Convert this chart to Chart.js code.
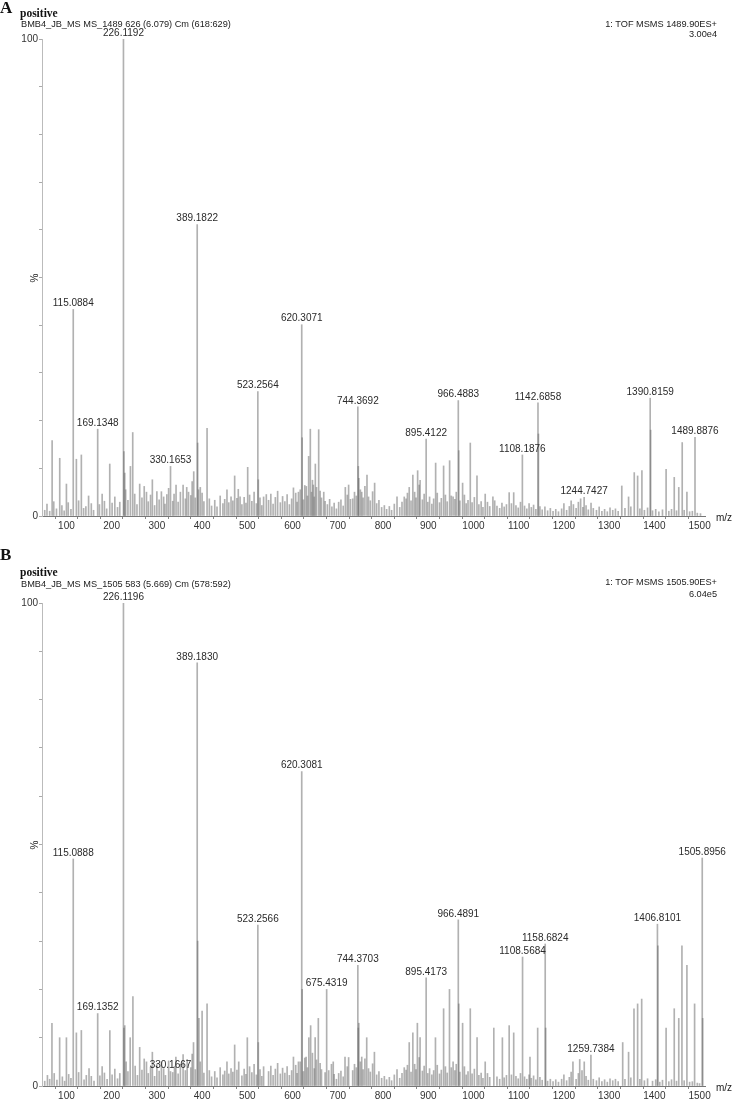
<!DOCTYPE html>
<html><head><meta charset="utf-8">
<script src="https://cdn.jsdelivr.net/npm/chart.js@4.4.1/dist/chart.umd.min.js"></script>
<style>
body{margin:0;width:732px;height:1101px;position:relative;background:#fff;font-family:'Liberation Sans',Arial,sans-serif;overflow:hidden}
canvas{position:absolute;left:0}
.t{position:absolute;white-space:nowrap;color:#222;line-height:1}
.hd{font-family:'Liberation Serif','Times New Roman',serif;font-weight:bold;color:#111}
.s{font-size:9.2px}
.r{text-align:right}
.pct{font-size:10px;transform:rotate(-90deg);transform-origin:center}
</style></head><body>
<canvas id="ca" width="732" height="540" style="top:0"></canvas>
<canvas id="cb" width="732" height="561" style="top:540px"></canvas>

<div class="t hd" style="left:0;top:-1px;font-size:17px">A</div>
<div class="t hd" style="left:20px;top:8px;font-size:11.5px">positive</div>
<div class="t s" style="left:21px;top:20px">BMB4_JB_MS MS_1489 626 (6.079) Cm (618:629)</div>
<div class="t s r" style="right:15px;top:20px">1: TOF MSMS 1489.90ES+</div>
<div class="t s r" style="right:15px;top:30px">3.00e4</div>
<div class="t pct" style="left:31px;top:273px">%</div>
<div class="t" style="left:716px;top:513px;font-size:10px">m/z</div>

<div class="t hd" style="left:0;top:546px;font-size:17px">B</div>
<div class="t hd" style="left:20px;top:567px;font-size:11.5px">positive</div>
<div class="t s" style="left:21px;top:580px">BMB4_JB_MS MS_1505 583 (5.669) Cm (578:592)</div>
<div class="t s r" style="right:15px;top:578px">1: TOF MSMS 1505.90ES+</div>
<div class="t s r" style="right:15px;top:590px">6.04e5</div>
<div class="t pct" style="left:31px;top:840px">%</div>
<div class="t" style="left:716px;top:1083px;font-size:10px">m/z</div>

<script>
// ---------- Panel A data ----------
const aLabelMz  = [226.1192, 389.1822, 115.0884, 620.3071, 523.2564, 169.1348, 330.1653, 744.3692, 966.4883, 1142.6858, 1390.8159, 895.4122, 1108.1876, 1489.8876, 1244.7427];
const aLabelInt = [100, 61.1, 43.3, 40.1, 26.1, 18.2, 10.4, 22.9, 24.2, 23.7, 24.7, 16.1, 12.8, 16.5, 3.9];
const aPeaks = [
 [68.4,15.8],[85.2,12.1],[100,6.7],[122,11.9],[133,12.8],[179,4.6],[195.8,10.9],[227.1,13.5],[229,9],[241.5,10.4],[246.6,17.5],
 [262,6.7],[277,5],[290,7.6],[310,5.1],[322,4.5],[342.4,6.5],[358,6.5],[370,5],[381.5,9.3],[390.2,15.3],[396,6],[411,18.4],
 [455,5.5],[472,8.4],[484,4],[500.8,10.2],[524.3,7.6],[536,4],[542,4.5],[602,5.9],[613,5],[621.3,16.4],[630.5,6.2],[635.6,12.5],
 [639.3,18.2],[646,6.5],[650.4,10.9],[657.8,18.1],[669,5],[716.7,6],[728,3.5],[745.4,10.4],[746.5,7.9],[753,5],[764.6,8.6],[781.5,6.9],
 [831,4],[847,4],[858,6],[866,8.6],[876.6,9.5],[882,7.5],[916.4,11.1],[934,10.5],[947.3,11.6],[955,4],[967.5,13.7],[976,6.9],
 [993,15.3],[1007.8,8.4],[1026,4.6],[1043,4],[1079,4.9],[1089,4.9],[1143.7,17.2],[1328,6.3],[1343,4],[1355.6,9.1],[1363,8.4],
 [1372.5,9.5],[1391.8,18],[1426,9.8],[1444,8.1],[1454,6],[1461.6,15.4],[1472,5]
];
const aNoise = [
 [52,1.2],[57,2.5],[63,1.0],[72,3.0],[78,1.5],[90,2.2],[95,1.1],[104,2.8],[110,1.4],[127,3.2],[138,1.6],[143,2.0],[149,4.2],[155,2.6],
 [160,1.2],[173,2.4],[184,3.1],[189,1.5],[201,2.7],[207,4.0],[213,1.8],[218,2.9],[231,5.5],[236,3.3],[251,4.6],[256,2.4],[267,3.8],
 [272,6.2],[281,3.0],[286,4.4],[295,2.2],[300,5.1],[305,3.4],[315,4.0],[318,2.5],[326,5.8],[335,3.1],[338,4.6],[347,2.9],[352,5.0],
 [363,3.6],[366,6.0],[375,4.3],[378,7.2],[385,3.8],[392,5.5],[400,4.8],[404,3.0],[416,3.6],[421,2.1],[428,3.3],[433,1.9],[440,4.2],
 [446,2.6],[450,3.5],[459,2.8],[464,4.0],[468,3.2],[477,3.7],[480,5.6],[488,2.4],[493,3.9],[497,2.7],[505,4.4],[510,3.1],[515,5.0],
 [520,2.6],[528,3.8],[532,2.2],[547,3.3],[552,4.6],[557,2.5],[562,3.9],[567,5.2],[573,2.8],[578,4.1],[583,3.0],[588,4.5],[593,2.4],
 [598,3.6],[607,4.8],[610,2.9],[617,5.5],[624,3.4],[627,6.4],[633,4.2],[642,5.0],[644,7.5],[648,4.0],[653,6.0],[661,5.2],[664,3.8],
 [672,3.1],[677,2.4],[682,3.5],[687,1.9],[692,2.7],[697,1.5],[702,2.9],[707,3.4],[712,2.1],[721,4.4],[724,6.5],[733,3.6],[737,5.0],
 [741,4.2],[750,5.5],[756,3.8],[760,6.2],[768,4.0],[772,3.2],[777,5.1],[786,2.6],[791,3.3],[797,1.8],[803,2.2],[808,1.4],[814,2.0],
 [819,1.2],[825,2.5],[837,1.8],[842,2.9],[851,3.6],[854,4.8],[862,3.2],[870,5.0],[873,3.8],[880,6.5],[887,3.4],[891,4.6],[899,2.9],
 [903,4.0],[908,2.5],[912,3.6],[920,4.8],[925,2.8],[929,3.7],[938,4.4],[942,3.0],[951,4.2],[959,3.5],[962,5.0],[970,3.2],[980,4.4],
 [984,2.6],[988,3.3],[997,2.8],[1002,3.9],[1012,2.4],[1017,3.0],[1021,1.8],[1031,2.9],[1036,2.0],[1047,3.2],[1052,2.1],[1058,1.6],
 [1063,2.7],[1068,1.9],[1073,2.4],[1084,2.6],[1094,2.2],[1099,1.7],[1104,2.9],[1113,2.1],[1118,1.5],[1123,2.6],[1128,1.8],[1133,2.3],
 [1138,1.4],[1147,2.0],[1152,1.3],[1158,1.9],[1164,1.1],[1170,1.6],[1176,1.0],[1182,1.4],[1188,0.9],[1195,1.5],[1200,2.6],[1206,1.2],
 [1212,2.0],[1216,3.2],[1221,2.4],[1227,1.6],[1232,2.9],[1237,3.6],[1242,1.8],[1249,2.2],[1254,1.3],[1260,2.7],[1265,1.6],[1272,1.2],
 [1278,1.9],[1284,1.0],[1290,1.4],[1296,0.9],[1302,1.7],[1308,1.2],[1314,1.5],[1320,1.0],[1335,1.6],[1348,1.9],[1368,1.5],[1378,1.2],
 [1385,1.7],[1396,1.1],[1403,1.4],[1410,0.9],[1418,1.3],[1432,1.0],[1438,1.4],[1449,1.1],[1466,1.2],[1478,0.9],[1484,1.0],[1495,0.6],[1502,0.5]
];

// ---------- Panel B data ----------
const bLabelMz  = [226.1196, 389.1830, 620.3081, 115.0888, 1505.8956, 966.4891, 1406.8101, 523.2566, 1158.6824, 1108.5684, 744.3703, 895.4173, 675.4319, 169.1352, 1259.7384, 330.1667];
const bLabelInt = [100, 87.6, 65.1, 47, 47.2, 34.4, 33.5, 33.3, 29.4, 26.7, 25, 22.4, 20, 15, 6.4, 3];
const bPeaks = [
 [68,13],[85,10],[100,10],[122,11],[133,11.5],[179,4],[196,11.5],[227.1,12],[229,12.5],[241,10],[247,18.5],[262,8],[277,5],[290,7],
 [310,5],[342,6],[358,6.5],[381,9],[390.2,30],[393,14],[400,15.5],[411,17],[455,5],[472,8.5],[500,10],[524.3,9],[536,4],[602,6],[613,5],
 [621.3,20],[630,6],[636,10],[640,12.5],[650,10],[657,14],[690,5],[716,6],[745.4,12],[746.5,13],[753,6],[764,10],[781,7],[858,9],
 [866,11],[876,13],[882,10],[916,10],[934,16],[947,20],[955,5],[967.5,17],[976,13],[993,16],[1008,10],[1026,5],[1045,12],[1064,10],
 [1079,12.5],[1089,11],[1125,6],[1142,12],[1159.7,12],[1220,5],[1235,5.5],[1245,5],[1330,9],[1343,7],[1355,16],[1363,17],[1372,18],
 [1407.8,29],[1426,12],[1444,16],[1454,14],[1461,29],[1472,25],[1489,17],[1506.9,14]
];
const bNoise = [
 [52,1.0],[58,2.2],[63,1.4],[73,2.6],[79,1.2],[91,1.9],[96,1.0],[105,2.4],[110,1.6],[127,2.8],[139,1.3],[144,2.2],[150,3.6],[155,2.0],
 [161,1.0],[174,2.1],[184,2.7],[190,1.4],[201,2.3],[207,3.5],[213,1.5],[218,2.6],[232,5.0],[236,3.0],[252,4.1],[257,2.2],[267,3.3],
 [272,5.6],[281,2.6],[286,3.9],[295,2.0],[300,4.6],[305,3.1],[315,3.6],[319,2.2],[326,5.2],[335,2.8],[339,4.1],[347,2.5],[352,4.5],
 [363,3.2],[367,5.5],[375,3.8],[378,6.6],[385,3.4],[396,5.0],[404,2.7],[416,3.2],[421,1.9],[428,3.0],[433,1.7],[440,3.8],[446,2.3],
 [450,3.1],[459,2.5],[464,3.6],[468,2.9],[477,3.3],[481,5.0],[488,2.1],[493,3.5],[497,2.4],[505,4.0],[510,2.8],[515,4.5],[520,2.3],
 [528,3.4],[532,2.0],[547,3.0],[552,4.1],[557,2.2],[562,3.5],[567,4.7],[573,2.5],[578,3.7],[583,2.7],[588,4.0],[593,2.2],[598,3.2],
 [607,4.3],[610,2.6],[617,5.0],[624,3.0],[627,5.8],[633,3.8],[644,6.8],[648,3.6],[653,5.4],[661,4.7],[664,3.4],[672,2.8],[680,3.2],
 [686,4.5],[692,2.4],[697,1.4],[702,2.6],[707,3.1],[712,1.9],[721,4.0],[724,5.9],[733,3.2],[737,4.5],[741,3.8],[750,5.0],[756,3.4],
 [760,5.6],[768,3.6],[772,2.9],[777,4.6],[786,2.3],[791,3.0],[797,1.6],[803,2.0],[808,1.3],[814,1.8],[819,1.1],[825,2.3],[831,3.4],
 [837,1.6],[842,2.6],[847,3.8],[851,3.3],[854,4.3],[862,2.9],[870,4.5],[873,3.4],[880,5.9],[887,3.1],[891,4.1],[899,2.6],[903,3.6],
 [908,2.3],[912,3.2],[920,4.3],[925,2.5],[929,3.3],[938,4.0],[942,2.7],[951,3.8],[959,3.2],[962,4.5],[970,2.9],[980,4.0],[984,2.3],
 [988,3.0],[997,2.5],[1002,3.5],[1012,2.2],[1017,2.7],[1021,1.6],[1031,2.6],[1036,1.8],[1052,1.9],[1058,1.4],[1068,1.7],[1073,2.2],
 [1084,2.3],[1094,2.0],[1099,1.5],[1104,2.6],[1113,1.9],[1118,1.4],[1123,2.3],[1128,1.6],[1133,2.1],[1138,1.3],[1147,1.8],[1152,1.2],
 [1164,1.0],[1170,1.4],[1176,0.9],[1182,1.3],[1188,0.8],[1195,1.4],[1200,2.3],[1206,1.1],[1212,1.8],[1216,2.9],[1227,1.4],[1232,2.6],
 [1240,3.2],[1249,2.0],[1254,1.2],[1265,1.4],[1272,1.1],[1278,1.7],[1284,0.9],[1290,1.3],[1296,0.8],[1302,1.5],[1308,1.1],[1314,1.4],
 [1320,0.9],[1335,1.4],[1348,1.7],[1368,1.4],[1378,1.1],[1385,1.5],[1396,1.0],[1403,1.3],[1412,0.8],[1418,1.2],[1432,0.9],[1438,1.3],
 [1449,1.0],[1466,1.1],[1478,0.8],[1484,0.9],[1495,0.6],[1500,0.5]
];

// ---------- axis ----------
const xMin = 46, xMax = 1512;
const xLabelStep = 100, xTickStep = 50;
const yTickStep = 10;
const yLabelValues = [0, 100];

const FONT = "'Liberation Sans', Arial, sans-serif";
const STICK = 'rgba(105,105,105,0.52)';

const peakLabelPlugin = {
  id: 'peakLabels',
  afterDatasetsDraw(chart) {
    const ctx = chart.ctx;
    chart.data.datasets.forEach((ds, di) => {
      if (!ds.peakText) return;
      const meta = chart.getDatasetMeta(di);
      ctx.save();
      ctx.font = '10px ' + FONT;
      ctx.fillStyle = '#2a2a2a';
      ctx.textAlign = 'center';
      ctx.textBaseline = 'bottom';
      meta.data.forEach((el, i) => {
        ctx.fillText(ds.peakText[i], el.x, el.y - 1);
      });
      ctx.restore();
    });
  }
};

function toXY(pairs) { return pairs.map(p => ({x: p[0], y: p[1]})); }

function makeChart(id, labelMz, labelInt, peaks, noise, padTop, xHeight) {
  const base = {type: 'bar', grouped: false, barThickness: 1, backgroundColor: STICK, borderWidth: 0};
  new Chart(document.getElementById(id), {
    type: 'bar',
    data: {
      datasets: [
        Object.assign({}, base, {data: toXY(noise)}),
        Object.assign({}, base, {data: toXY(peaks)}),
        Object.assign({}, base, {
          data: labelMz.map((m, i) => ({x: m, y: labelInt[i]})),
          peakText: labelMz.map(m => m.toFixed(4))
        })
      ]
    },
    options: {
      responsive: false,
      animation: false,
      events: [],
      layout: {padding: {top: padTop, right: 27, left: 0, bottom: 0}},
      plugins: {legend: {display: false}, tooltip: {enabled: false}},
      scales: {
        x: {
          type: 'linear', min: xMin, max: xMax, offset: false,
          afterFit(s) { s.height = xHeight; },
          afterBuildTicks(s) {
            const t = [];
            for (let v = xTickStep * Math.ceil(xMin / xTickStep); v <= xMax; v += xTickStep) t.push({value: v});
            s.ticks = t;
          },
          ticks: {
            autoSkip: false, maxRotation: 0, padding: 1,
            color: '#333', font: {size: 10, family: FONT},
            callback: v => (v % xLabelStep === 0 ? String(v) : '')
          },
          grid: {display: true, drawOnChartArea: false, drawTicks: true, tickLength: 3, color: '#888'},
          border: {display: true, color: '#777', width: 1}
        },
        y: {
          min: 0, max: 100,
          afterFit(s) { s.width = 42; },
          ticks: {
            stepSize: yTickStep, autoSkip: false, padding: 1,
            color: '#333', font: {size: 10, family: FONT},
            callback: v => (yLabelValues.includes(v) ? String(v) : '')
          },
          grid: {display: true, drawOnChartArea: false, drawTicks: true, tickLength: 3, color: '#aaa'},
          border: {display: true, color: '#bbb', width: 1}
        }
      }
    },
    plugins: [peakLabelPlugin]
  });
}

makeChart('ca', aLabelMz, aLabelInt, aPeaks, aNoise, 39, 24);
makeChart('cb', bLabelMz, bLabelInt, bPeaks, bNoise, 63, 15);
</script>
</body></html>
